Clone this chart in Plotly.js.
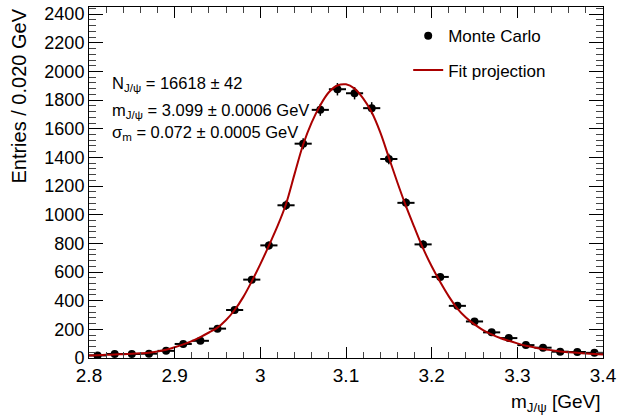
<!DOCTYPE html>
<html>
<head>
<meta charset="utf-8">
<script src="https://cdn.plot.ly/plotly-3.0.1.min.js"></script>
<style>
  html, body { margin: 0; padding: 0; background: #fff; }
  #chart { width: 618px; height: 419px; }
</style>
</head>
<body>
<div id="chart"></div>
<script>
// Monte Carlo histogram: bin centres (GeV), 0.020 GeV bins
const binCentres = [2.81, 2.83, 2.85, 2.87, 2.89, 2.91, 2.93, 2.95, 2.97, 2.99,
                    3.01, 3.03, 3.05, 3.07, 3.09, 3.11, 3.13, 3.15, 3.17, 3.19,
                    3.21, 3.23, 3.25, 3.27, 3.29, 3.31, 3.33, 3.35, 3.37, 3.39];
const entries = [18, 28, 28, 30, 50, 98, 120, 205, 335, 547,
                 786, 1066, 1496, 1732, 1876, 1848, 1744, 1389, 1083, 793,
                 566, 364, 255, 179, 139, 90, 72, 44, 42, 36];
const binHalfWidth = 0.01;

// Fit projection sampled every 0.010 GeV
const fitMass = [2.80, 2.81, 2.82, 2.83, 2.84, 2.85, 2.86, 2.87, 2.88, 2.89,
                 2.90, 2.91, 2.92, 2.93, 2.94, 2.95, 2.96, 2.97, 2.98, 2.99,
                 3.00, 3.01, 3.02, 3.03, 3.04, 3.05, 3.06, 3.07, 3.08, 3.09,
                 3.10, 3.11, 3.12, 3.13, 3.14, 3.15, 3.16, 3.17, 3.18, 3.19,
                 3.20, 3.21, 3.22, 3.23, 3.24, 3.25, 3.26, 3.27, 3.28, 3.29,
                 3.30, 3.31, 3.32, 3.33, 3.34, 3.35, 3.36, 3.37, 3.38, 3.39, 3.40];
const fitValues = [18, 20, 22, 25, 27, 30, 33, 37, 46, 58,
                   75, 95, 118, 146, 178, 212, 265, 335, 425, 535,
                   655, 785, 920, 1075, 1285, 1490, 1645, 1765, 1855, 1902,
                   1910, 1880, 1812, 1715, 1575, 1400, 1225, 1060, 910, 765,
                   640, 530, 430, 345, 283, 235, 195, 165, 140, 120,
                   102, 86, 74, 63, 54, 46, 41, 36, 32, 28, 25];

// Fit results shown on the plot
const fitLabels = [
  'N<sub>J/ψ</sub> = 16618 ± 42',
  'm<sub>J/ψ</sub> = 3.099 ± 0.0006 GeV',
  'σ<sub>m</sub> = 0.072 ± 0.0005 GeV'
];
const labelY = [1912, 1724, 1574];

const FONT = 'Liberation Sans, Arial, sans-serif';

const mcTrace = {
  x: binCentres,
  y: entries,
  type: 'scatter',
  mode: 'markers',
  name: 'Monte Carlo',
  legendgroup: 'mc',
  marker: { symbol: 'circle', size: 8, color: '#000' },
  error_x: { type: 'constant', value: binHalfWidth, color: '#000', thickness: 2, width: 0 },
  error_y: { type: 'data', array: entries.map(v => Math.sqrt(v)), color: '#000', thickness: 1.5, width: 0 }
};

const fitTrace = {
  x: fitMass,
  y: fitValues,
  type: 'scatter',
  mode: 'lines',
  name: 'Fit projection',
  legendgroup: 'fit',
  line: { color: '#aa0000', width: 2, shape: 'spline', smoothing: 1 }
};

const annotations = fitLabels.map((t, i) => ({
  text: t,
  x: 2.824, y: labelY[i],
  xref: 'x', yref: 'y',
  xanchor: 'left', yanchor: 'middle',
  showarrow: false,
  font: { family: FONT, size: 16.5, color: '#000' }
}));

// Axis titles sit at the far ends of their axes
annotations.push({
  text: 'Entries / 0.020 GeV',
  xref: 'paper', yref: 'paper',
  x: -0.138, y: 1.0,
  xanchor: 'center', yanchor: 'top',
  textangle: -90,
  showarrow: false,
  font: { family: FONT, size: 20, color: '#000' }
});
annotations.push({
  text: 'm<sub>J/ψ</sub> [GeV]',
  xref: 'paper', yref: 'paper',
  x: 1.0, y: -0.088,
  xanchor: 'right', yanchor: 'top',
  showarrow: false,
  font: { family: FONT, size: 19, color: '#000' }
});

const layout = {
  width: 618,
  height: 419,
  margin: { l: 89, r: 15, t: 7, b: 61 },
  paper_bgcolor: '#fff',
  plot_bgcolor: '#fff',
  font: { family: FONT, color: '#000' },
  showlegend: true,
  legend: {
    x: 0.621, y: 0.968, xanchor: 'left', yanchor: 'top',
    bgcolor: 'rgba(255,255,255,0)',
    font: { family: FONT, size: 17, color: '#000' },
    tracegroupgap: 9
  },
  xaxis: {
    range: [2.8, 3.4],
    dtick: 0.1, tick0: 2.8,
    ticks: 'inside', ticklen: 11, tickwidth: 1, tickcolor: '#000',
    minor: { dtick: 0.02, ticks: 'inside', ticklen: 6, tickcolor: '#444', tickwidth: 1 },
    showline: true, linecolor: '#000', linewidth: 1, mirror: 'allticks',
    showgrid: false, zeroline: false,
    tickfont: { family: FONT, size: 19 }
  },
  yaxis: {
    range: [0, 2450],
    dtick: 200, tick0: 0,
    ticks: 'inside', ticklen: 14, tickwidth: 1, tickcolor: '#000',
    minor: { dtick: 40, ticks: 'inside', ticklen: 7, tickcolor: '#444', tickwidth: 1 },
    showline: true, linecolor: '#000', linewidth: 1, mirror: 'allticks',
    showgrid: false, zeroline: false,
    tickfont: { family: FONT, size: 18 }
  },
  annotations: annotations
};

Plotly.newPlot('chart', [mcTrace, fitTrace], layout, { displayModeBar: false, staticPlot: true });
</script>
</body>
</html>
